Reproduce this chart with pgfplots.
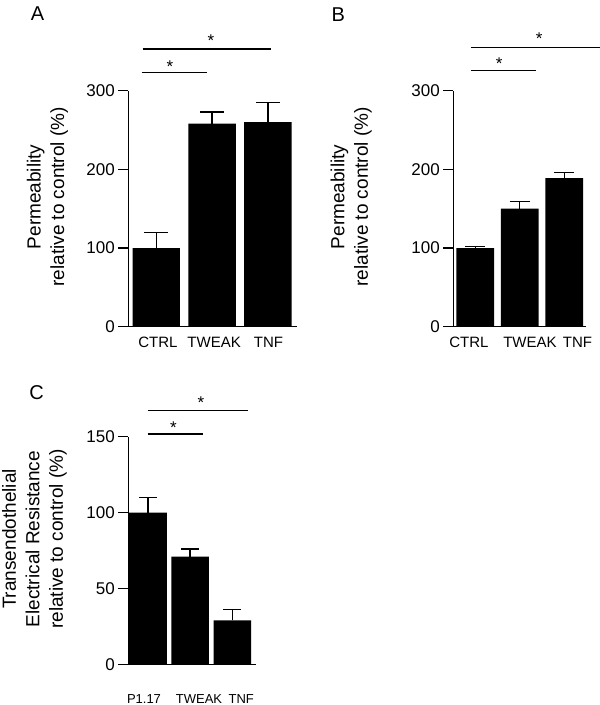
\documentclass[border=0pt]{standalone}
\usepackage{fontspec}
\setmainfont{Liberation Sans}
\usepackage{pgfplots}
\pgfplotsset{compat=1.18}

\pgfplotsset{
  panel/.style={
    scale only axis,
    anchor=south west,
    axis lines*=left,
    axis line style={line width=1.5pt, black},
    clip=false,
    ymin=0,
    x tick style={draw=none},
    tick align=outside,
    major tick length=10pt,
    y tick style={line width=1.4pt, black},
    yticklabel style={font=\fontsize{17}{17}\selectfont},
    /pgf/number format/assume math mode=true,
    xticklabel style={anchor=base, yshift=-11pt, font=\fontsize{15}{15}\selectfont},
  },
  ylab/.style 2 args={
    every axis y label/.style={at={(rel axis cs:#1,#2)}, rotate=90, anchor=center,
      align=center, font=\fontsize{19}{23.5}\selectfont},
  },
  bars/.style={
    ybar, fill=black, draw=none,
    error bars/y dir=plus, error bars/y explicit,
    error bars/error bar style={line width=1.4pt, black},
    error bars/error mark=|,
    error bars/error mark options={line width=1.4pt, black, mark size=#1},
  },
}
\tikzset{
  sig/.style={line width=1.3pt},
  star/.style={font=\fontsize{17}{17}\selectfont, anchor=center, yshift=-3.6pt},
}

\begin{document}
\begin{tikzpicture}
\useasboundingbox (0,0) rectangle (600pt,705pt);

% panel letters
\node[font=\fontsize{20}{20}\selectfont] at (37.5pt,691.3pt) {A};
\node[font=\fontsize{20}{20}\selectfont] at (338.3pt,690.5pt) {B};
\node[font=\fontsize{20}{20}\selectfont] at (36.7pt,312.5pt) {C};

% A
\begin{axis}[panel,
  at={(128.3pt,378.3pt)}, width=168.4pt, height=236pt,
  xmin=0.498, xmax=3.516, ymax=300, ytick={0,100,200,300},
  xtick={1.03,2.036,3.01}, xticklabels={CTRL,TWEAK,TNF},
  ylabel={Permeability\\relative to control (\%)}, ylab={-0.48}{0.55}]
  \addplot[bars=12pt, bar width=0.848] table[x=x, y=y, y error=e] {
    x y e
    1 100 20
    2 258 15
    3 260 25
  };
  \draw[sig] (axis cs:0.738,323) -- (axis cs:1.903,323);
  \draw[sig] (axis cs:0.756,353) -- (axis cs:3.05,353);
  \node[star] at (axis cs:1.246,335) {*};
  \node[star] at (axis cs:1.98,368) {*};
\end{axis}

% B
\begin{axis}[panel,
  at={(453.3pt,378.3pt)}, width=132.7pt, height=236pt,
  xmin=0.506, xmax=3.488, ymax=300, ytick={0,100,200,300},
  xtick={0.858,2.229,3.297}, xticklabels={CTRL,TWEAK,TNF},
  ylabel={Permeability\\relative to control (\%)}, ylab={-0.769}{0.55}]
  \addplot[bars=10pt, bar width=0.847] table[x=x, y=y, y error=e] {
    x y e
    1 100 2
    2 150 9
    3 189 7
  };
  \draw[sig] (axis cs:0.903,325.4) -- (axis cs:2.357,325.4);
  \draw[sig] (axis cs:0.903,355.2) -- (axis cs:3.80,355.2);
  \node[star] at (axis cs:1.539,339) {*};
  \node[star] at (axis cs:2.438,370.8) {*};
\end{axis}

% C
\begin{axis}[panel,
  at={(128.3pt,40.7pt)}, width=127.7pt, height=227.7pt,
  xmin=0.533, xmax=3.56, ymax=150, ytick={0,50,100,150},
  xtick={0.905,2.21,3.21}, xticklabels={P1.17,TWEAK,TNF},
  xticklabel style={yshift=-18.4pt, font=\fontsize{13}{13}\selectfont},
  ylabel={Transendothelial\\Electrical Resistance\\relative to control (\%)},
  ylab={-0.735}{0.55}]
  \addplot[bars=9pt, bar width=0.89] table[x=x, y=y, y error=e] {
    x y e
    1 100 10
    2 71 5
    3 29 7
  };
  \draw[sig] (axis cs:0.993,151.7) -- (axis cs:2.31,151.7);
  \draw[sig] (axis cs:0.993,167.1) -- (axis cs:3.377,167.1);
  \node[star] at (axis cs:1.6,158.3) {*};
  \node[star] at (axis cs:2.256,174.6) {*};
\end{axis}
\end{tikzpicture}
\end{document}
